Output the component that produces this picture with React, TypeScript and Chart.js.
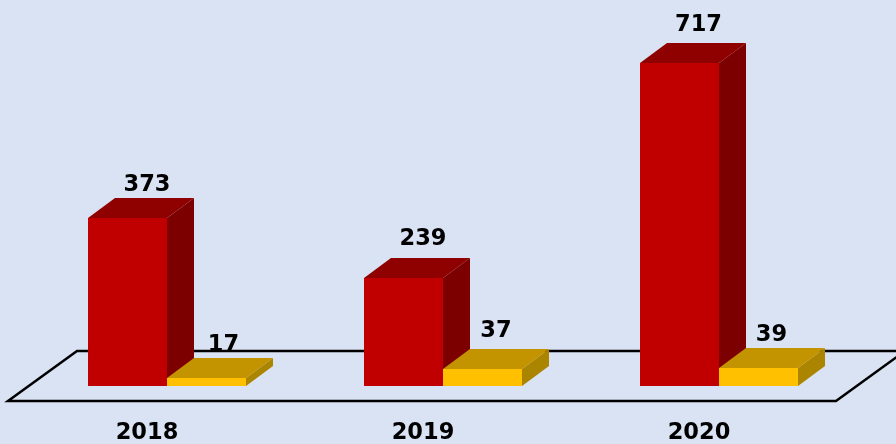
import React, { useEffect, useRef } from "react";
import { Chart, registerables } from "chart.js";

Chart.register(...registerables);

const categories = ["2018", "2019", "2020"];
const redValues = [373, 239, 717];
const yellowValues = [17, 37, 39];

const BG = "#dae3f3";
const DEPTH_X = 27;
const DEPTH_Y = 20;
const FONT_FAMILY = "'DejaVu Sans', sans-serif";
const FONT = "bold 22.5px " + FONT_FAMILY;
const LABEL_SHIFT_X = [[19.5, 19.5, 19], [17, 13.5, 13]];
const LABEL_SHIFT_Y = [[27, 33, 32], [27, 32, 27]];

function shade(ctx: CanvasRenderingContext2D, pts: number[][], fill: string) {
  ctx.beginPath();
  pts.forEach((p, i) => (i ? ctx.lineTo(p[0], p[1]) : ctx.moveTo(p[0], p[1])));
  ctx.closePath();
  ctx.fillStyle = fill;
  ctx.fill();
}

const floorPlugin = {
  id: "floor",
  beforeDatasetsDraw(chart: any) {
    const { left, right } = chart.chartArea;
    const y0 = chart.scales.y.getPixelForValue(0);
    const ctx = chart.ctx;
    ctx.save();
    ctx.beginPath();
    ctx.moveTo(left - 21, y0 + 15);
    ctx.lineTo(right - 21, y0 + 15);
    ctx.lineTo(right + 48, y0 - 35);
    ctx.lineTo(left + 48, y0 - 35);
    ctx.closePath();
    ctx.strokeStyle = "#000000";
    ctx.lineWidth = 2.5;
    ctx.stroke();
    ctx.restore();
  },
};

const bars3dPlugin = {
  id: "bars3d",
  afterDatasetsDraw(chart: any) {
    const ctx = chart.ctx;
    ctx.save();
    const n = chart.data.labels.length;
    for (let i = 0; i < n; i++) {
      chart.data.datasets.forEach((ds: any, d: number) => {
        const el = chart.getDatasetMeta(d).data[i];
        const props = el.getProps(["x", "y", "base", "width"], true);
        const y = Math.round(props.y);
        const base = Math.round(props.base);
        const l = Math.round(props.x - props.width / 2);
        const r = Math.round(props.x + props.width / 2);
        shade(ctx, [[r, y], [r + DEPTH_X, y - DEPTH_Y], [r + DEPTH_X, base - DEPTH_Y], [r, base]], ds.sideColor);
        shade(ctx, [[l, y], [l + DEPTH_X, y - DEPTH_Y], [r + DEPTH_X, y - DEPTH_Y], [r, y]], ds.topColor);
        ctx.fillStyle = ds.backgroundColor;
        ctx.fillRect(l, y, r - l, base - y);
      });
    }
    ctx.fillStyle = "#000000";
    ctx.font = FONT;
    ctx.textAlign = "center";
    ctx.textBaseline = "alphabetic";
    chart.data.datasets.forEach((ds: any, d: number) => {
      chart.getDatasetMeta(d).data.forEach((el: any, i: number) => {
        const { x, y } = el.getProps(["x", "y"], true);
        ctx.fillText(String(ds.data[i]), x + LABEL_SHIFT_X[d][i], y - LABEL_SHIFT_Y[d][i]);
      });
    });
    ctx.restore();
  },
};

export default function App() {
  const ref = useRef<HTMLCanvasElement>(null);
  useEffect(() => {
    const chart = new Chart(ref.current!, {
      type: "bar",
      data: {
        labels: categories,
        datasets: [
          { data: redValues, backgroundColor: "#c00000", sideColor: "#7c0000", topColor: "#8f0000" },
          { data: yellowValues, backgroundColor: "#ffc000", sideColor: "#ab8500", topColor: "#c49300" },
        ] as any,
      },
      plugins: [floorPlugin, bars3dPlugin],
      options: {
        animation: false,
        responsive: false,
        layout: { padding: { left: 29, right: 39, top: 26, bottom: 0 } },
        plugins: { legend: { display: false }, tooltip: { enabled: false } },
        datasets: { bar: { barPercentage: 1, categoryPercentage: 0.5725 } },
        scales: {
          x: {
            afterFit: (s: any) => { s.height = 58; },
            grid: { display: false, drawTicks: false },
            border: { display: false },
            ticks: {
              color: "#000",
              font: { family: FONT_FAMILY, size: 22.5, weight: "bold" },
              padding: 34,
              labelOffset: -20,
              maxRotation: 0,
            },
          },
          y: { display: false, min: 0, max: 800 },
        },
      } as any,
    });
    return () => chart.destroy();
  }, []);
  return (
    <div style={{ position: "fixed", inset: 0, background: BG }}>
      <canvas ref={ref} width={896} height={444} style={{ display: "block" }} />
    </div>
  );
}
